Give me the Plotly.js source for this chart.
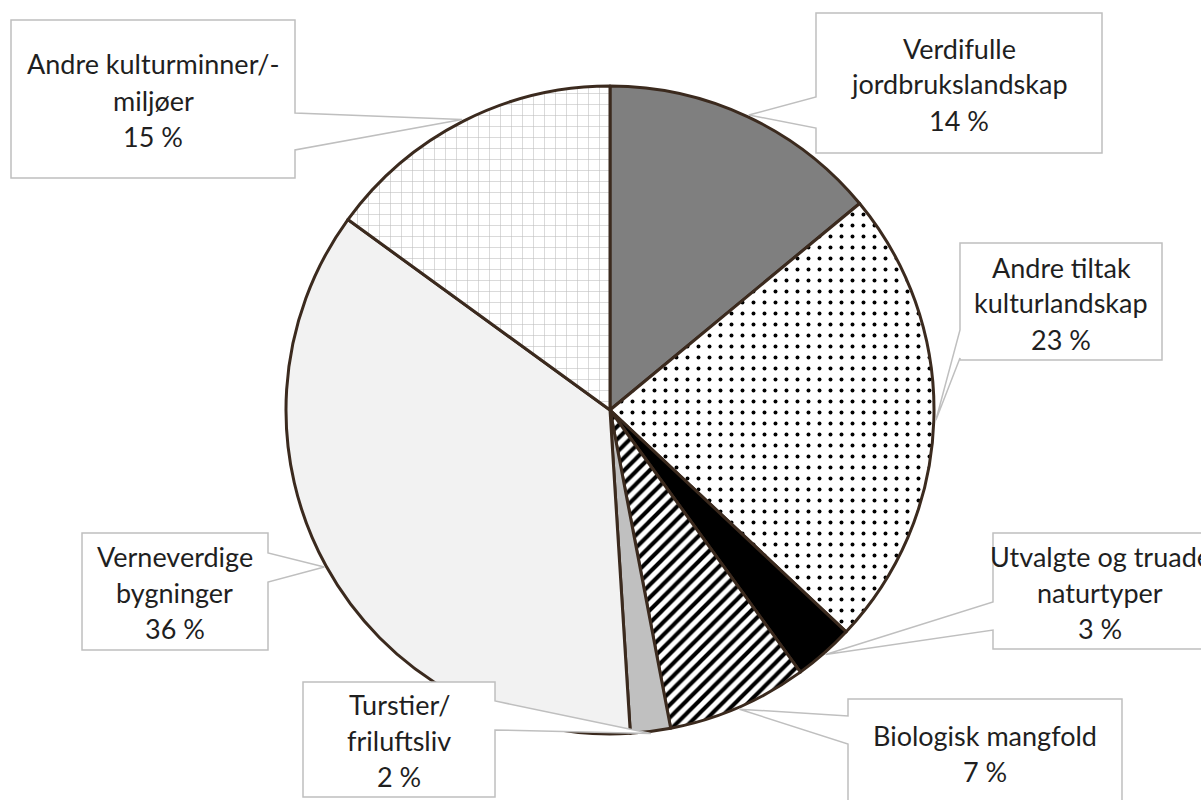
<!DOCTYPE html>
<html>
<head>
<meta charset="utf-8">
<script src="https://cdn.plot.ly/plotly-3.0.1.min.js"></script>
<style>html,body{margin:0;padding:0;background:#fff;}#chart{width:1201px;height:800px;}</style>
</head>
<body>
<div id="chart"></div>
<script>
// ---- data ----
const categories = [
  "Verdifulle<br>jordbrukslandskap",
  "Andre tiltak<br>kulturlandskap",
  "Utvalgte og truade<br>naturtyper",
  "Biologisk mangfold",
  "Turstier/<br>friluftsliv",
  "Verneverdige<br>bygninger",
  "Andre kulturminner/-<br>miljøer"
];
const values = [14, 23, 3, 7, 2, 36, 15];

// ---- styles ----
const fillColors = ["#7f7f7f", "#ffffff", "#000000", "#ffffff", "#c0c0c0", "#f2f2f2", "#ffffff"];
const patShapes  = ["", ".", "", "/", "", "", "+"];
const patFg      = ["#000", "#000", "#000", "#000", "#000", "#000", "#bdbdbd"];
const patSize    = [8, 11, 8, 9, 8, 8, 11];
const patSolid   = [0.3, 0.1, 0.3, 0.45, 0.3, 0.3, 0.1];

const W = 1201, H = 800;
const cx = 610, cy = 410, R = 324;

// callout boxes (pixels): box, side of wedge, wedge y range, text centre
const boxes = [
  {x0: 816, y0: 13,  x1: 1102, y1: 153, side: "left",  wa: 97,  wb: 128, tx: 959,  ty: 84},
  {x0: 960, y0: 243, x1: 1162, y1: 360, side: "left",  wa: 330, wb: 358, tx: 1061, ty: 303},
  {x0: 993, y0: 533, x1: 1207, y1: 649, side: "left",  wa: 602, wb: 630, tx: 1100, ty: 592},
  {x0: 848, y0: 699, x1: 1122, y1: 830, side: "left",  wa: 716, wb: 744, tx: 985,  ty: 753},
  {x0: 303, y0: 682, x1: 495,  y1: 797, side: "right", wa: 701, wb: 730, tx: 399,  ty: 740},
  {x0: 82,  y0: 533, x1: 268,  y1: 650, side: "right", wa: 553, wb: 582, tx: 175,  ty: 592},
  {x0: 11,  y0: 20,  x1: 295,  y1: 178, side: "right", wa: 113, wb: 150, tx: 153,  ty: 100}
];

const px = x => x / W;
const py = y => 1 - y / H;

// tips from data: mid-angle of each slice on the rim
const total = values.reduce((a, b) => a + b, 0);
let cum = 0;
const tips = values.map(v => {
  const mid = (cum + v / 2) / total * 2 * Math.PI;
  cum += v;
  return {x: cx + (R + 2) * Math.sin(mid), y: cy - (R + 2) * Math.cos(mid)};
});

const shapes = boxes.map((b, i) => {
  const t = tips[i];
  let pts;
  if (b.side === "left") {
    pts = [[b.x0, b.y0], [b.x1, b.y0], [b.x1, b.y1], [b.x0, b.y1], [b.x0, b.wb], [t.x, t.y], [b.x0, b.wa]];
  } else {
    pts = [[b.x0, b.y0], [b.x1, b.y0], [b.x1, b.wa], [t.x, t.y], [b.x1, b.wb], [b.x1, b.y1], [b.x0, b.y1]];
  }
  const path = pts.map((p, k) => (k ? "L" : "M") + px(p[0]).toFixed(5) + "," + py(p[1]).toFixed(5)).join(" ") + " Z";
  return {type: "path", xref: "paper", yref: "paper", path: path,
          fillcolor: "#ffffff", line: {color: "#bfbfbf", width: 1.5}, layer: "above"};
});

const annotations = [];
const lineGap = 36;
categories.forEach((c, i) => {
  const lines = c.split("<br>").concat([values[i] + " %"]);
  const n = lines.length;
  lines.forEach((ln, k) => {
    annotations.push({
      xref: "paper", yref: "paper",
      x: px(boxes[i].tx), y: py(boxes[i].ty + (k - (n - 1) / 2) * lineGap),
      xanchor: "center", yanchor: "middle", showarrow: false,
      text: ln, font: {family: "Lato, 'Open Sans', sans-serif", size: 27, color: "#1f1f1f"}
    });
  });
});

const trace = {
  type: "pie",
  labels: categories,
  values: values,
  sort: false,
  direction: "clockwise",
  rotation: 0,
  textinfo: "none",
  hoverinfo: "none",
  showlegend: false,
  domain: {x: [px(cx - R), px(cx + R)], y: [py(cy + R), py(cy - R)]},
  marker: {
    colors: fillColors,
    line: {color: "#3b2a1e", width: 3},
    pattern: {shape: patShapes, fgcolor: patFg, size: patSize, solidity: patSolid}
  }
};

Plotly.newPlot("chart", [trace], {
  width: W, height: H,
  margin: {l: 0, r: 0, t: 0, b: 0},
  paper_bgcolor: "#ffffff",
  shapes: shapes,
  annotations: annotations,
  showlegend: false
}, {staticPlot: true});
</script>
</body>
</html>
